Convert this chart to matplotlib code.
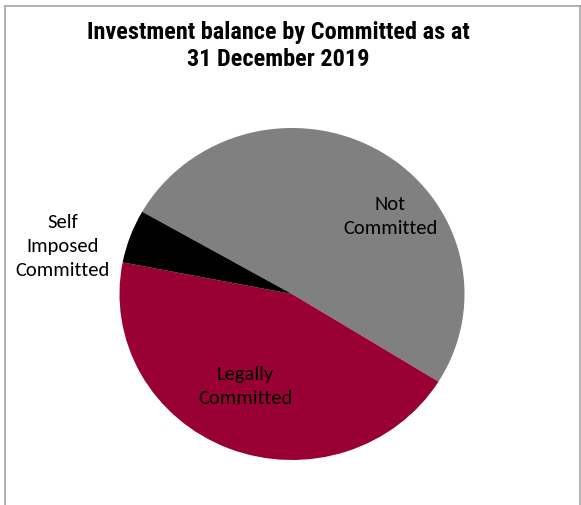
import matplotlib
matplotlib.use("Agg")
import matplotlib.pyplot as plt
from matplotlib.lines import Line2D
from matplotlib import font_manager

# data
categories = ["Not\nCommitted", "Legally\nCommitted", "Self\nImposed\nCommitted"]
shares = [50.6, 44.2, 5.2]
colors = ["#808080", "#990033", "#000000"]
# label spots, in units of the pie radius
label_xy = [(0.57, 0.47), (-0.27, -0.55), (-1.33, 0.295)]

names = {f.name for f in font_manager.fontManager.ttflist}
label_font = next((n for n in ["Carlito", "Lato", "Open Sans"] if n in names), "DejaVu Sans")
title_font = next((n for n in ["Liberation Sans Narrow", "Roboto Condensed",
                               "DejaVu Sans Condensed", "Roboto", "Liberation Sans"]
                   if n in names), "DejaVu Sans")

W, H = 581, 506
fig = plt.figure(figsize=(W / 100, H / 100), dpi=100)

# pie centre and radii in pixels
cx, cy, rx, ry = 292, 295, 172.5, 166
ax = fig.add_axes([(cx - rx) / W, (H - cy - ry) / H, 2 * rx / W, 2 * ry / H])
ax.pie(shares, colors=colors, startangle=150.3, counterclock=False,
       radius=1, wedgeprops=dict(linewidth=0))
ax.set_aspect("auto")
ax.set_xlim(-1, 1)
ax.set_ylim(-1, 1)
ax.axis("off")

for lab, (x, y) in zip(categories, label_xy):
    ax.text(x, y, lab, ha="center", va="center", fontsize=14.8,
            family=label_font, linespacing=1.5, color="black")

fig.text(278 / W, 1 - 46 / H, "Investment balance by Committed as at\n31 December 2019",
         ha="center", va="center", fontsize=17.5, family=title_font,
         fontweight="bold", linespacing=1.2, color="black")

# chart frame (open at the bottom)
frame = dict(color="#a6a6a6", linewidth=1.2)
fig.add_artist(Line2D([4.5 / W, 4.5 / W], [0, 1 - 6.5 / H], **frame))
fig.add_artist(Line2D([4.5 / W, 579.5 / W], [1 - 6.5 / H, 1 - 6.5 / H], **frame))
fig.add_artist(Line2D([579.5 / W, 579.5 / W], [0, 1 - 6.5 / H], **frame))

fig.savefig("out.png", dpi=100)
